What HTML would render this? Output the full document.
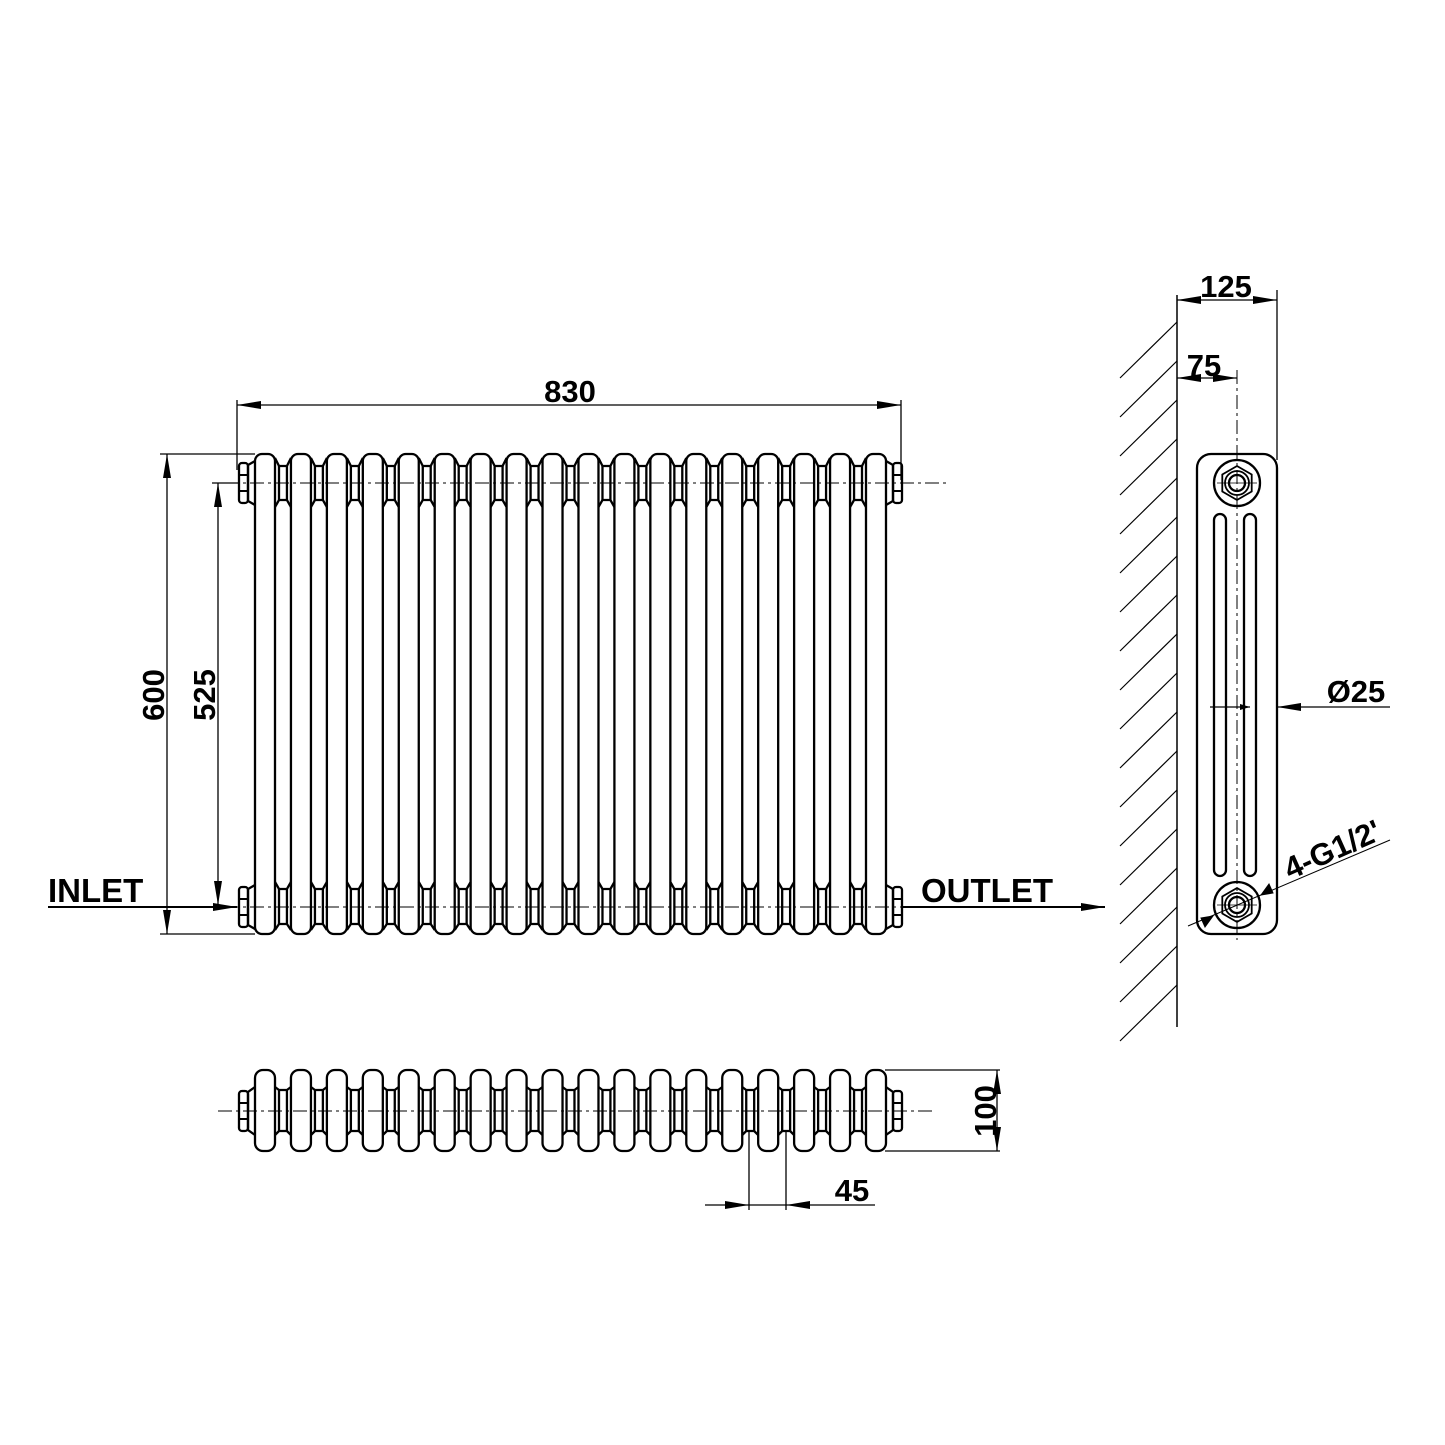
<!DOCTYPE html>
<html><head><meta charset="utf-8">
<style>
html,body{margin:0;padding:0;background:#fff;}
svg{display:block}
text{font-family:"Liberation Sans",Arial,sans-serif;font-weight:bold;fill:#000}
</style></head>
<body>
<svg id="s" width="1445" height="1445" viewBox="0 0 1445 1445" xmlns="http://www.w3.org/2000/svg">
<defs>
<marker id="a" viewBox="0 0 10 6" refX="10" refY="3" markerWidth="10" markerHeight="6" markerUnits="userSpaceOnUse" orient="auto-start-reverse"><path d="M0,0 L10,3 L0,6 z" fill="#000"/></marker>
<marker id="b" viewBox="0 0 24 8" refX="24" refY="4" markerWidth="24" markerHeight="8" markerUnits="userSpaceOnUse" orient="auto-start-reverse"><path d="M0,0 L24,4 L0,8 z" fill="#000"/></marker>
</defs>
<g id="g" fill="none" stroke="#000"></g>
<text x="570" y="402" font-size="31" text-anchor="middle">830</text>
<text transform="translate(164,695) rotate(-90)" font-size="31" text-anchor="middle">600</text>
<text transform="translate(215,695) rotate(-90)" font-size="31" text-anchor="middle">525</text>
<text x="48" y="902" font-size="33">INLET</text>
<text x="921" y="902" font-size="33">OUTLET</text>
<text x="1226" y="297" font-size="31" text-anchor="middle">125</text>
<text x="1204" y="376" font-size="31" text-anchor="middle">75</text>
<text x="1356" y="702" font-size="31" text-anchor="middle">Ø25</text>
<text transform="translate(1290,880) rotate(-24)" font-size="31">4-G1/2'</text>
<text transform="translate(996,1111) rotate(-90)" font-size="31" text-anchor="middle">100</text>
<text x="852" y="1201" font-size="31" text-anchor="middle">45</text>
</svg>
<script>
var g=document.getElementById('g'),h='';
function L(x1,y1,x2,y2,w,extra){h+='<line x1="'+x1+'" y1="'+y1+'" x2="'+x2+'" y2="'+y2+'" stroke-width="'+(w||1.3)+'" '+(extra||'')+'/>';}
function P(d,w){h+='<path d="'+d+'" stroke-width="'+(w||2.3)+'"/>';}
var N=18,x0=255,p=(866-255)/17,cw=20;
for(var i=0;i<N;i++){var x=x0+i*p;
 h+='<rect x="'+x+'" y="454" width="'+cw+'" height="480" rx="7" stroke-width="2.3"/>';}
for(var i=0;i<N-1;i++){var a=x0+i*p+cw,b=x0+(i+1)*p;
 P('M'+a+',458 L'+(a+4)+',466 L'+(b-4)+',466 L'+b+',458');
 P('M'+a+',507 L'+(a+4)+',500 L'+(b-4)+',500 L'+b+',507');
 P('M'+(a+4)+',466 L'+(a+4)+',500 M'+(b-4)+',466 L'+(b-4)+',500');
 P('M'+a+',882 L'+(a+4)+',889 L'+(b-4)+',889 L'+b+',882');
 P('M'+a+',930 L'+(a+4)+',924 L'+(b-4)+',924 L'+b+',930');
 P('M'+(a+4)+',889 L'+(a+4)+',924 M'+(b-4)+',889 L'+(b-4)+',924');
}
[[483],[907]].forEach(function(c){var y=c[0];
 P('M255,'+(y-22)+' L248,'+(y-18)+' L248,'+(y+18)+' L255,'+(y+22));
 h+='<rect x="239" y="'+(y-20)+'" width="9" height="40" rx="3" stroke-width="2.3"/>';
 L(239,y-8,248,y-8,2);L(239,y+8,248,y+8,2);
 P('M886,'+(y-22)+' L893,'+(y-18)+' L893,'+(y+18)+' L886,'+(y+22));
 h+='<rect x="893" y="'+(y-20)+'" width="9" height="40" rx="3" stroke-width="2.3"/>';
 L(893,y-8,902,y-8,2);L(893,y+8,902,y+8,2);
});
L(225,483,950,483,1,'stroke-dasharray="14 4 3 4"');
L(225,907,905,907,1,'stroke-dasharray="14 4 3 4"');
L(237,400,237,470);L(901,400,901,480);
L(237,405,901,405,1.3,'marker-start="url(#b)" marker-end="url(#b)"');
L(160,454,255,454);L(160,934,255,934);
L(167,454,167,934,1.3,'marker-start="url(#b)" marker-end="url(#b)"');
L(212,483,240,483);
L(218,483,218,905,1.3,'marker-start="url(#b)" marker-end="url(#b)"');
L(48,907,237,907,2,'marker-end="url(#b)"');
L(902,907,1105,907,2,'marker-end="url(#b)"');
L(1177,295,1177,1027,1.5);L(1277,290,1277,460,1.3);L(1237,370,1237,940,1,'stroke-dasharray="14 4 3 4"');
for(var y=340;y<=1030;y+=39){L(1120,y+38,1177,y-18,1.2);}
L(1177,300,1277,300,1.3,'marker-start="url(#b)" marker-end="url(#b)"');
L(1177,378,1237,378,1.3,'marker-start="url(#b)" marker-end="url(#b)"');
h+='<rect x="1197" y="454" width="80" height="480" rx="14" stroke-width="2.3"/>';
h+='<rect x="1214" y="514" width="12" height="362" rx="6" stroke-width="2.3"/>';
h+='<rect x="1244" y="514" width="12" height="362" rx="6" stroke-width="2.3"/>';
[483,905].forEach(function(y){var cx=1237;
 h+='<circle cx="'+cx+'" cy="'+y+'" r="23" stroke-width="2.3"/>';
 var pts=[];for(var k=0;k<6;k++){var an=Math.PI/6+k*Math.PI/3;pts.push((cx+17*Math.cos(an)).toFixed(1)+','+(y+17*Math.sin(an)).toFixed(1));}
 h+='<polygon points="'+pts.join(' ')+'" stroke-width="1.8"/>';
 h+='<circle cx="'+cx+'" cy="'+y+'" r="12" stroke-width="1.8"/>';
 h+='<circle cx="'+cx+'" cy="'+y+'" r="8" stroke-width="2.3"/>';
 L(cx-20,y,cx+20,y,0.8);
});
L(1210,707,1250,707,1.3,'marker-end="url(#a)"');
L(1390,707,1277,707,1.3,'marker-end="url(#b)"');
L(1188,926,1390,840,1);
h+='<path d="M1213,916 l-12,2 l4,9 z" fill="#000"/>';
h+='<path d="M1261,895 l12,-2 l-4,-9 z" fill="#000"/>';
for(var i=0;i<N;i++){var x=x0+i*p;
 h+='<rect x="'+x+'" y="1070" width="'+cw+'" height="81" rx="8" stroke-width="2.3"/>';}
for(var i=0;i<N-1;i++){var a=x0+i*p+cw,b=x0+(i+1)*p;
 P('M'+a+',1087 L'+(a+4)+',1090 L'+(b-4)+',1090 L'+b+',1087');
 P('M'+a+',1135 L'+(a+4)+',1131 L'+(b-4)+',1131 L'+b+',1135');
 P('M'+(a+4)+',1090 L'+(a+4)+',1131 M'+(b-4)+',1090 L'+(b-4)+',1131');}
P('M255,1087 L248,1092 L248,1130 L255,1135');
h+='<rect x="239" y="1091" width="9" height="40" rx="3" stroke-width="2.3"/>';L(239,1103,248,1103,2);L(239,1119,248,1119,2);
P('M886,1087 L893,1092 L893,1130 L886,1135');
h+='<rect x="893" y="1091" width="9" height="40" rx="3" stroke-width="2.3"/>';L(893,1103,902,1103,2);L(893,1119,902,1119,2);
L(218,1111,935,1111,1,'stroke-dasharray="14 4 3 4"');
L(885,1070,1000,1070);L(885,1151,1000,1151);
L(997,1070,997,1151,1.3,'marker-start="url(#b)" marker-end="url(#b)"');
L(749,1130,749,1210);L(786,1130,786,1210);
L(705,1205,749,1205,1.3,'marker-end="url(#b)"');
L(875,1205,786,1205,1.3,'marker-end="url(#b)"');
L(749,1205,786,1205);
g.innerHTML=h;
</script>
</body></html>
